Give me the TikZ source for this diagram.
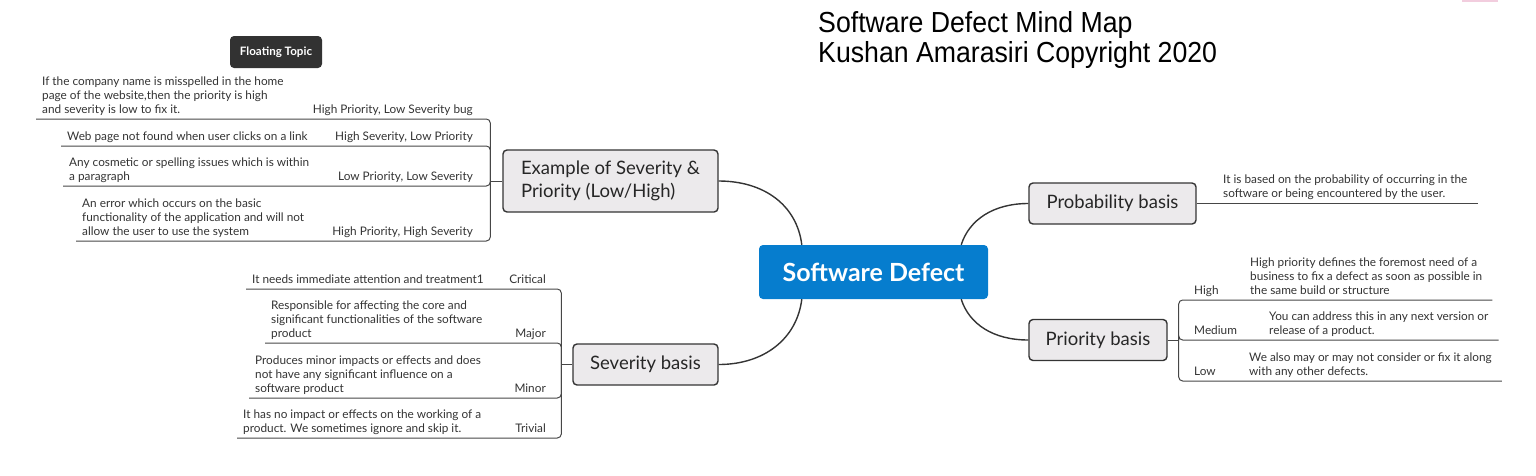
\documentclass[tikz,border=0pt]{standalone}
\usepackage{fontspec}
\setmainfont{Lato}
\newfontfamily\titlefont{Liberation Sans}
\usepackage{tikz}
\usetikzlibrary{positioning, calc}
\definecolor{topicfill}{RGB}{236,234,236}
\definecolor{topicline}{RGB}{52,52,52}
\definecolor{centralblue}{RGB}{6,125,206}
\definecolor{floatfill}{RGB}{50,50,50}
\definecolor{branchline}{RGB}{70,70,70}
\definecolor{ribbon}{RGB}{242,205,222}
\tikzset{
    central/.style={
        rectangle,
        fill=centralblue,
        rounded corners=4pt,
        minimum width=229pt,
        minimum height=54pt,
        text=white,
        font=\fontsize{25}{29}\selectfont\bfseries
    },
    topic/.style={
        rectangle,
        draw=topicline,
        line width=1.4pt,
        fill=topicfill,
        rounded corners=4pt,
        minimum height=41pt,
        text=black!85,
        font=\fontsize{18.5}{22.5}\selectfont
    },
    floating/.style={
        rectangle,
        fill=floatfill,
        rounded corners=4pt,
        minimum width=92pt,
        minimum height=32pt,
        text=white,
        font=\fontsize{11.6}{13}\selectfont\bfseries
    },
    note/.style={
        align=left,
        inner sep=0pt,
        anchor=base west,
        text=black!80,
        font=\fontsize{11.8}{13.7}\selectfont
    },
    tagleft/.style={
        inner sep=0pt,
        anchor=base east,
        text=black!80,
        font=\fontsize{11.8}{13.7}\selectfont
    },
    tagright/.style={
        inner sep=0pt,
        anchor=base west,
        text=black!80,
        font=\fontsize{11.8}{13.7}\selectfont
    },
    heading/.style={
        inner sep=0pt,
        anchor=base west,
        font=\titlefont\fontsize{29}{30}\selectfont
    },
    curve/.style={
        draw=topicline,
        line width=1.4pt
    },
    branch/.style={
        draw=branchline,
        line width=1pt,
        rounded corners=4pt
    }
}

\begin{document}
\begin{tikzpicture}[x=1pt, y=-1pt]
\useasboundingbox (0,0) rectangle (1536,475);

% Title and ribbon
\node[heading] (title) at (818,32) {\scalebox{0.92}[1]{Software Defect Mind Map}};
\node[heading] (author) at (818,62) {\scalebox{0.92}[1]{Kushan Amarasiri Copyright 2020}};
\fill[ribbon] (1462,0) rectangle (1498,1.5);

% Central topic
\node[central] (sd) at (873.5,272) {Software Defect};

% Main topics
\node[topic, minimum width=215pt, minimum height=62pt, align=left] (ex) at (610.5,181) {Example of Severity \&\\Priority (Low/High)};
\node[topic, minimum width=145pt] (sv) at (645.5,364.5) {Severity basis};
\node[topic, minimum width=167pt] (pb) at (1112.5,203.5) {Probability basis};
\node[topic, minimum width=138pt] (pr) at (1098,340) {Priority basis};

% Floating topic
\node[floating] (ft) at (276,52) {Floating Topic};

% Trunk points of the brackets
\coordinate[left=12pt of ex.west] (exT);
\coordinate[left=11pt of sv.west] (svT);
\coordinate[right=11pt of pr.east] (prT);

% Examples (left of ex)
\node[tagleft] (e1t) at (473,113) {High Priority, Low Severity bug};
\node[note] (e1) at (42,113) {If the company name is misspelled in the home\\page of the website,then the priority is high\\and severity is low to fix it.};
\node[tagleft] (e2t) at (473,140) {High Severity, Low Priority};
\node[note] (e2) at (67,140) {Web page not found when user clicks on a link};
\node[tagleft] (e3t) at (473,180) {Low Priority, Low Severity};
\node[note] (e3) at (69,180) {Any cosmetic or spelling issues which is within\\a paragraph};
\node[tagleft] (e4t) at (473,235) {High Priority, High Severity};
\node[note] (e4) at (82,235) {An error which occurs on the basic\\functionality of the application and will not\\allow the user to use the system};

% Severity levels (left of sv)
\node[tagleft] (s1t) at (546,283) {Critical};
\node[note] (s1) at (252,283) {It needs immediate attention and treatment1};
\node[tagleft] (s2t) at (546,337) {Major};
\node[note] (s2) at (271,337) {Responsible for affecting the core and\\significant functionalities of the software\\product};
\node[tagleft] (s3t) at (546,392) {Minor};
\node[note] (s3) at (255,392) {Produces minor impacts or effects and does\\not have any significant influence on a\\software product};
\node[tagleft] (s4t) at (546,432) {Trivial};
\node[note] (s4) at (243,432) {It has no impact or effects on the working of a\\product. We sometimes ignore and skip it.};

% Probability note
\node[note] (pbd) at (1223,197.5) {It is based on the probability of occurring in the\\software or being encountered by the user.};

% Priority levels (right of pr)
\node[tagright] (p1t) at (1194,294) {High};
\node[note] (p1) at (1250,294) {High priority defines the foremost need of a\\business to fix a defect as soon as possible in\\the same build or structure};
\node[tagright] (p2t) at (1194,334) {Medium};
\node[note] (p2) at (1269,334) {You can address this in any next version or\\release of a product.};
\node[tagright] (p3t) at (1194,375) {Low};
\node[note] (p3) at (1249,375) {We also may or may not consider or fix it along\\with any other defects.};

% Curves from the central topic
\draw[curve] ([xshift=43pt]sd.north west) .. controls +(-5,-40) and +(45,0) .. (ex.east);
\draw[curve] ([xshift=43pt]sd.south west) .. controls +(-5,40) and +(45,0) .. (sv.east);
\draw[curve] ([xshift=-27pt]sd.north east) .. controls +(8,-25) and +(-35,0) .. (pb.west);
\draw[curve] ([xshift=-27pt]sd.south east) .. controls +(8,25) and +(-35,0) .. (pr.west);

% Brackets and underlines
\draw[branch] (ex.west) -- (exT);
\foreach \n in {e1,e2,e3,e4}
    \draw[branch] (exT) |- ([xshift=-6pt,yshift=-6pt]\n.base west);
\draw[branch] (sv.west) -- (svT);
\foreach \n in {s1,s2,s3,s4}
    \draw[branch] (svT) |- ([xshift=-6pt,yshift=-6pt]\n.base west);
\draw[branch] (pr.east) -- (prT);
\foreach \n in {p1,p2,p3}
    \draw[branch] (prT) |- ([xshift=10pt,yshift=-6pt]\n.base east);
\draw[branch] (pb.east) -- ([xshift=10pt,yshift=-6pt]pbd.base east);

\end{tikzpicture}
\end{document}
